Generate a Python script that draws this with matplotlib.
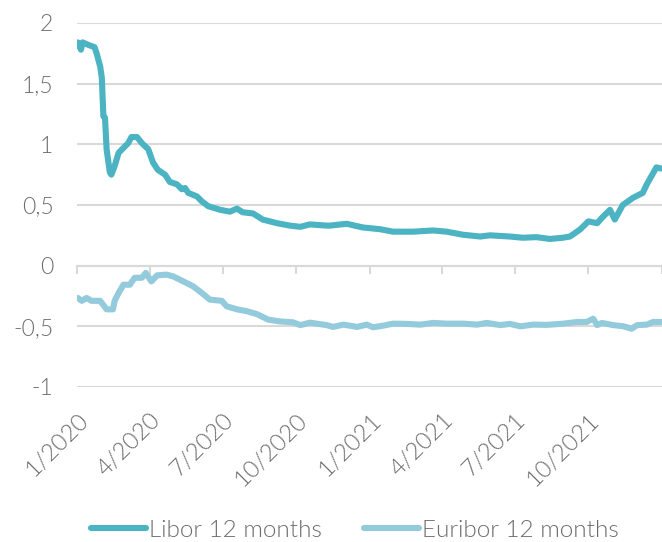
import matplotlib
matplotlib.use("Agg")
import matplotlib.pyplot as plt
import matplotlib.dates as mdates
import pandas as pd

# values
libor_dates = [
    "2020-01-02", "2020-01-06", "2020-01-08", "2020-01-15", "2020-01-23", "2020-01-26",
    "2020-01-30", "2020-02-01", "2020-02-03", "2020-02-05", "2020-02-07", "2020-02-11",
    "2020-02-13", "2020-02-17", "2020-02-22", "2020-02-28", "2020-03-05", "2020-03-09",
    "2020-03-16", "2020-03-22", "2020-03-30", "2020-04-05", "2020-04-11", "2020-04-20",
    "2020-04-26", "2020-05-05", "2020-05-11", "2020-05-15", "2020-05-19", "2020-05-30",
    "2020-06-05", "2020-06-13", "2020-06-28", "2020-07-10", "2020-07-19", "2020-07-26",
    "2020-08-08", "2020-08-20", "2020-09-07", "2020-09-23", "2020-10-06", "2020-10-18",
    "2020-11-08", "2020-11-12", "2020-12-03", "2020-12-23", "2021-01-14", "2021-01-30",
    "2021-02-24", "2021-03-21", "2021-04-07", "2021-04-27", "2021-05-19", "2021-05-31",
    "2021-06-25", "2021-07-11", "2021-07-28", "2021-08-14", "2021-08-30", "2021-09-08",
    "2021-09-21", "2021-10-01", "2021-10-12", "2021-10-18", "2021-10-28", "2021-11-03",
    "2021-11-13", "2021-11-26", "2021-12-08", "2021-12-13", "2021-12-19", "2021-12-25",
    "2021-12-31",
]
libor_values = [
    1.84, 1.78, 1.84, 1.82, 1.80, 1.74,
    1.64, 1.55, 1.23, 1.22, 0.96, 0.77,
    0.75, 0.82, 0.93, 0.97, 1.01, 1.06,
    1.06, 1.01, 0.96, 0.85, 0.79, 0.75,
    0.69, 0.67, 0.63, 0.64, 0.60, 0.57,
    0.53, 0.49, 0.46, 0.445, 0.47, 0.44,
    0.43, 0.38, 0.35, 0.33, 0.32, 0.34,
    0.33, 0.33, 0.345, 0.315, 0.30, 0.28,
    0.28, 0.29, 0.28, 0.255, 0.24, 0.25,
    0.24, 0.23, 0.235, 0.22, 0.23, 0.24,
    0.30, 0.365, 0.35, 0.395, 0.46, 0.38,
    0.50, 0.56, 0.60, 0.67, 0.74, 0.81,
    0.80,
]

euribor_dates = [
    "2020-01-02", "2020-01-07", "2020-01-13", "2020-01-19", "2020-01-30", "2020-02-07",
    "2020-02-15", "2020-02-17", "2020-02-22", "2020-02-28", "2020-03-07", "2020-03-13",
    "2020-03-22", "2020-03-27", "2020-04-03", "2020-04-10", "2020-04-22", "2020-04-30",
    "2020-05-13", "2020-05-25", "2020-06-05", "2020-06-15", "2020-06-30", "2020-07-06",
    "2020-07-19", "2020-07-31", "2020-08-13", "2020-08-27", "2020-09-11", "2020-09-27",
    "2020-10-06", "2020-10-18", "2020-11-08", "2020-11-16", "2020-11-29", "2020-12-16",
    "2020-12-28", "2021-01-05", "2021-01-18", "2021-01-30", "2021-02-16", "2021-03-05",
    "2021-03-21", "2021-04-07", "2021-04-28", "2021-05-15", "2021-05-27", "2021-06-13",
    "2021-06-25", "2021-07-08", "2021-07-24", "2021-08-10", "2021-08-31", "2021-09-17",
    "2021-09-29", "2021-10-07", "2021-10-12", "2021-10-18", "2021-11-01", "2021-11-14",
    "2021-11-24", "2021-12-01", "2021-12-13", "2021-12-21", "2021-12-31",
]
euribor_values = [
    -0.266, -0.29, -0.266, -0.29, -0.29, -0.36,
    -0.36, -0.29, -0.225, -0.157, -0.157, -0.10,
    -0.10, -0.06, -0.13, -0.08, -0.074, -0.088,
    -0.13, -0.17, -0.225, -0.28, -0.29, -0.335,
    -0.36, -0.375, -0.40, -0.445, -0.46, -0.467,
    -0.49, -0.47, -0.49, -0.505, -0.486, -0.505,
    -0.486, -0.508, -0.494, -0.478, -0.48, -0.486,
    -0.472, -0.478, -0.478, -0.486, -0.472, -0.49,
    -0.48, -0.50, -0.486, -0.488, -0.478, -0.464,
    -0.464, -0.437, -0.49, -0.472, -0.49, -0.50,
    -0.52, -0.49, -0.486, -0.464, -0.464,
]

tick_dates = ["2020-01-01", "2020-04-01", "2020-07-01", "2020-10-01", "2021-01-01",
              "2021-04-01", "2021-07-01", "2021-10-01", "2022-01-01"]
tick_labels = ["1/2020", "4/2020", "7/2020", "10/2020", "1/2021",
               "4/2021", "7/2021", "10/2021", ""]
y_ticks = [-1, -0.5, 0, 0.5, 1, 1.5, 2]
y_labels = ["-1", "-0,5", "0", "0,5", "1", "1,5", "2"]

LIBOR_COLOR = "#4bb3c2"
EURIBOR_COLOR = "#93cbdc"
TEXT_COLOR = "#6f6b6b"
GRID_COLOR = "#d9d9d9"

plt.rcParams['font.family'] = ['Lato', 'DejaVu Sans']
plt.rcParams['font.weight'] = 300

fig = plt.figure(figsize=(6.62, 5.42), dpi=100)
ax = fig.add_axes([0.1163, 0.286, 0.8837, 0.6716])

ax.plot(pd.to_datetime(libor_dates), libor_values, color=LIBOR_COLOR, lw=4.4,
        solid_capstyle='round', solid_joinstyle='round', label="Libor 12 months", zorder=3)
ax.plot(pd.to_datetime(euribor_dates), euribor_values, color=EURIBOR_COLOR, lw=4.4,
        solid_capstyle='round', solid_joinstyle='round', label="Euribor 12 months", zorder=3)

xt = mdates.date2num(pd.to_datetime(tick_dates))
ax.set_xlim(xt[0], xt[-1])
ax.set_ylim(-1, 2)

ax.set_yticks(y_ticks)
ax.set_yticklabels(y_labels)
ax.set_xticks(xt)
ax.set_xticklabels(tick_labels, rotation=45, ha='right', rotation_mode='anchor')
ax.tick_params(axis='y', length=0, pad=17, labelsize=16.5, labelcolor=TEXT_COLOR)
ax.tick_params(axis='x', length=0, pad=16, labelsize=17, labelcolor=TEXT_COLOR)

ax.grid(axis='y', color=GRID_COLOR, lw=1.5)
ax.grid(axis='x', visible=False)
for s in ax.spines.values():
    s.set_visible(False)
ax.set_axisbelow(True)

# zero line with quarter ticks
ax2 = ax.twiny()
ax2.set_xlim(ax.get_xlim())
ax2.set_xticks(xt)
ax2.xaxis.set_ticks_position('bottom')
ax2.tick_params(axis='x', direction='out', length=5.5, width=1.5, color=GRID_COLOR,
                labelbottom=False, labeltop=False)
for s in ax2.spines.values():
    s.set_visible(False)
ax2.spines['bottom'].set_visible(True)
ax2.spines['bottom'].set_position(('data', 0))
ax2.spines['bottom'].set_color(GRID_COLOR)
ax2.spines['bottom'].set_linewidth(1.5)
ax2.set_zorder(0)
ax.set_zorder(1)
ax.patch.set_visible(False)

leg = ax.legend(loc='center', bbox_to_anchor=(0.475, -0.393), ncol=2, frameon=False,
                fontsize=17.5, handlelength=2.3, handletextpad=0.12, columnspacing=1.7,
                labelcolor=TEXT_COLOR)

fig.savefig("out.png", dpi=100)
